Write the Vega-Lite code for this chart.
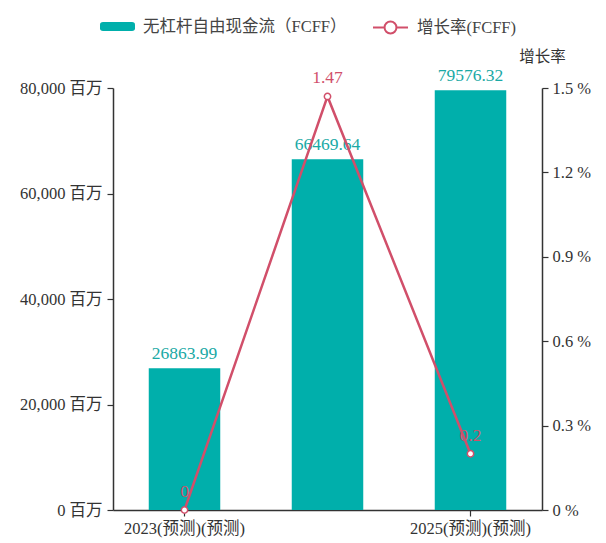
{
  "$schema": "https://vega.github.io/schema/vega-lite/v6.json",
  "width": 429,
  "height": 422,
  "autosize": {"type": "none"},
  "padding": {"left": 113, "top": 88, "right": 64, "bottom": 33},
  "background": "white",
  "config": {
    "view": {"stroke": null},
    "font": "Liberation Serif",
    "axis": {
      "labelFont": "Liberation Serif, Noto Sans CJK SC",
      "labelFontSize": 16.5,
      "labelColor": "#333333",
      "domainColor": "#333333",
      "domainWidth": 1.5,
      "tickColor": "#333333",
      "tickWidth": 1.2,
      "tickSize": 6,
      "grid": false
    },
    "legend": {
      "labelFont": "Liberation Serif, Noto Sans CJK SC",
      "labelFontSize": 16.5,
      "labelColor": "#444444",
      "labelLimit": 0
    }
  },
  "data": {
    "values": [
      {"year": "2023(预测)(预测)", "fcff": 26863.99, "growth": 0, "fcffLabel": "26863.99", "growthLabel": "0", "s1": "无杠杆自由现金流（FCFF）", "s2": "增长率(FCFF)"},
      {"year": "2024(预测)(预测)", "fcff": 66469.64, "growth": 1.47, "fcffLabel": "66469.64", "growthLabel": "1.47", "s1": "无杠杆自由现金流（FCFF）", "s2": "增长率(FCFF)"},
      {"year": "2025(预测)(预测)", "fcff": 79576.32, "growth": 0.2, "fcffLabel": "79576.32", "growthLabel": "0.2", "s1": "无杠杆自由现金流（FCFF）", "s2": "增长率(FCFF)"}
    ]
  },
  "encoding": {
    "x": {
      "field": "year",
      "type": "nominal",
      "sort": null,
      "scale": {"paddingInner": 0.5, "paddingOuter": 0.25},
      "axis": {
        "title": null,
        "labelAngle": 0,
        "values": ["2023(预测)(预测)", "2025(预测)(预测)"],
        "labelPadding": 4
      }
    }
  },
  "layer": [
    {
      "layer": [
        {
          "mark": {"type": "bar"},
          "encoding": {
            "y": {
              "field": "fcff",
              "type": "quantitative",
              "scale": {"domain": [0, 80000], "nice": false},
              "axis": {
                "title": null,
                "values": [0, 20000, 40000, 60000, 80000],
                "labelExpr": "format(datum.value, ',') + ' 百万'",
                "labelPadding": 5
              }
            },
            "fill": {
              "field": "s1",
              "type": "nominal",
              "scale": {"range": ["#00AFAB"]},
              "legend": {
                "title": null,
                "orient": "none",
                "legendX": -13,
                "legendY": -79,
                "symbolType": "M-0.83,-0.26L0.83,-0.26Q1,-0.26 1,-0.1L1,0.1Q1,0.26 0.83,0.26L-0.83,0.26Q-1,0.26 -1,0.1L-1,-0.1Q-1,-0.26 -0.83,-0.26Z",
                "symbolSize": 1225,
                "symbolStrokeWidth": 0,
                "labelOffset": 8
              }
            }
          }
        },
        {
          "mark": {"type": "text", "baseline": "alphabetic", "dy": -9, "fontSize": 17.5, "color": "#1AA9A5", "font": "Liberation Serif"},
          "encoding": {
            "y": {"field": "fcff", "type": "quantitative"},
            "text": {"field": "fcffLabel"}
          }
        }
      ]
    },
    {
      "layer": [
        {
          "mark": {"type": "line", "strokeWidth": 2.5},
          "encoding": {
            "y": {
              "field": "growth",
              "type": "quantitative",
              "scale": {"domain": [0, 1.5], "nice": false},
              "axis": {
                "orient": "right",
                "title": "增长率",
                "titleFont": "Noto Sans CJK SC",
                "titleFontSize": 15.5,
                "titleFontWeight": "normal",
                "titleColor": "#333333",
                "titleAngle": 0,
                "titleX": 0,
                "titleY": -32,
                "titleAlign": "center",
                "titleBaseline": "middle",
                "values": [0, 0.3, 0.6, 0.9, 1.2, 1.5],
                "labelExpr": "format(datum.value, '') + ' %'",
                "labelPadding": 4
              }
            },
            "stroke": {
              "field": "s2",
              "type": "nominal",
              "scale": {"range": ["#D14F6A"]},
              "legend": {
                "title": null,
                "orient": "none",
                "legendX": 259,
                "legendY": -79,
                "symbolType": "M-1,0L-0.34,0M0.34,0L1,0M-0.34,0A0.34,0.34 0 1,1 0.34,0A0.34,0.34 0 1,1 -0.34,0",
                "symbolSize": 1225,
                "symbolFillColor": "white",
                "symbolStrokeWidth": 2,
                "labelOffset": 8
              }
            }
          }
        },
        {
          "mark": {"type": "point", "shape": "circle", "filled": true, "fill": "white", "stroke": "#D14F6A", "strokeWidth": 1.5, "size": 40, "opacity": 1},
          "encoding": {
            "y": {"field": "growth", "type": "quantitative"}
          }
        },
        {
          "mark": {"type": "text", "baseline": "alphabetic", "dy": -13, "fontSize": 17.5, "color": "#D14F6A", "font": "Liberation Serif"},
          "encoding": {
            "y": {"field": "growth", "type": "quantitative"},
            "text": {"field": "growthLabel"}
          }
        }
      ]
    }
  ],
  "resolve": {"scale": {"y": "independent", "fill": "independent", "stroke": "independent"}}
}
